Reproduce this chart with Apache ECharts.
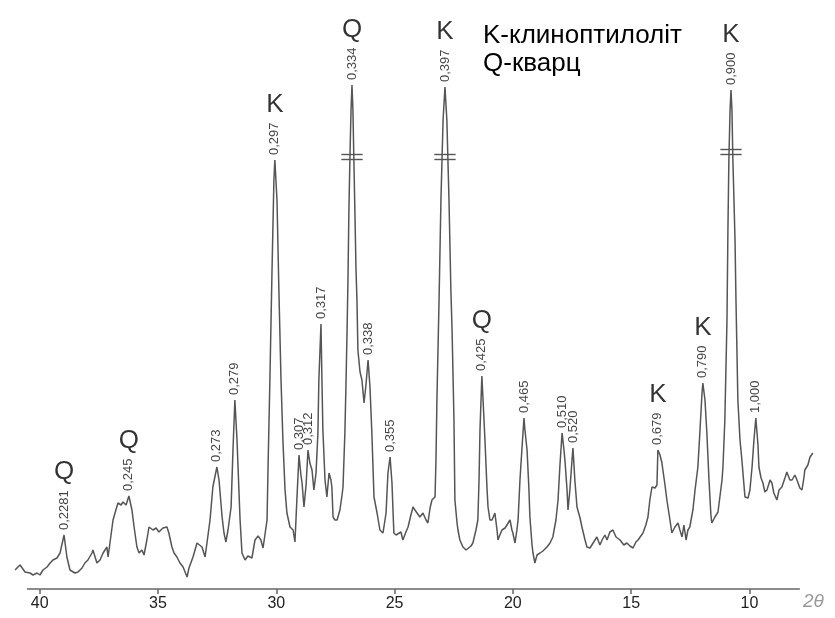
<!DOCTYPE html>
<html>
<head>
<meta charset="utf-8">
<script src="https://cdn.jsdelivr.net/npm/echarts@6/dist/echarts.min.js"></script>
<style>html,body{margin:0;padding:0;background:#fff}#c{width:835px;height:618px}</style>
</head>
<body>
<div id="c"></div>
<script>
// 2θ (degrees)
const twoTheta = [41.04,40.92,40.83,40.75,40.62,40.41,40.28,40.11,39.99,39.86,39.69,39.56,39.44,39.27,39.14,38.97,38.85,38.72,38.51,38.38,38.21,38.09,37.96,37.79,37.75,37.58,37.45,37.32,37.16,37.11,37.03,36.90,36.78,36.69,36.56,36.48,36.35,36.23,36.10,36.01,35.89,35.80,35.68,35.59,35.47,35.38,35.21,35.08,34.96,34.79,34.62,34.54,34.41,34.32,34.20,34.07,33.94,33.77,33.69,33.52,33.35,33.27,33.14,33.01,32.93,32.80,32.68,32.51,32.42,32.29,32.21,32.13,32.04,31.91,31.83,31.75,31.66,31.53,31.45,31.32,31.20,31.03,30.90,30.77,30.65,30.56,30.48,30.39,30.35,30.27,30.18,30.10,30.06,29.97,29.89,29.80,29.72,29.63,29.55,29.42,29.29,29.21,29.13,29.04,28.96,28.91,28.83,28.74,28.66,28.58,28.49,28.41,28.32,28.24,28.20,28.11,28.07,28.03,27.94,27.86,27.77,27.69,27.65,27.60,27.52,27.43,27.31,27.22,27.18,27.10,27.05,27.01,26.97,26.93,26.88,26.84,26.80,26.76,26.72,26.67,26.63,26.59,26.55,26.46,26.38,26.29,26.21,26.12,26.04,25.96,25.87,25.74,25.62,25.49,25.36,25.28,25.19,25.11,25.03,24.94,24.86,24.73,24.65,24.52,24.43,24.31,24.22,24.14,24.05,23.93,23.80,23.67,23.59,23.50,23.42,23.29,23.25,23.21,23.12,23.04,22.95,22.87,22.79,22.70,22.62,22.57,22.49,22.45,22.36,22.32,22.24,22.11,21.98,21.90,21.77,21.69,21.56,21.48,21.43,21.39,21.31,21.26,21.18,21.09,21.05,20.97,20.88,20.76,20.67,20.63,20.55,20.46,20.33,20.25,20.12,20.04,20.00,19.91,19.83,19.78,19.70,19.62,19.53,19.49,19.40,19.32,19.28,19.19,19.15,19.07,18.98,18.85,18.73,18.56,18.43,18.31,18.18,18.09,18.01,17.92,17.84,17.80,17.71,17.67,17.59,17.50,17.46,17.38,17.29,17.16,17.08,16.95,16.87,16.74,16.66,16.53,16.45,16.32,16.23,16.11,16.02,15.90,15.77,15.64,15.47,15.31,15.18,15.05,14.92,14.80,14.71,14.59,14.50,14.38,14.29,14.21,14.12,13.99,13.91,13.87,13.78,13.70,13.57,13.49,13.36,13.28,13.15,13.02,12.94,12.85,12.77,12.68,12.60,12.52,12.43,12.39,12.30,12.18,12.09,12.01,11.97,11.88,11.80,11.71,11.63,11.59,11.46,11.33,11.25,11.16,11.12,11.04,10.95,10.91,10.87,10.82,10.78,10.74,10.70,10.61,10.57,10.49,10.40,10.32,10.19,10.06,9.98,9.89,9.81,9.73,9.64,9.60,9.51,9.43,9.35,9.26,9.13,9.05,8.97,8.84,8.75,8.63,8.50,8.42,8.29,8.20,8.08,7.99,7.87,7.78,7.70,7.66,7.53,7.44,7.32];
// relative intensity (arbitrary units)
const intensity = [19,22,24,26,17,16,14,16,14,19,22,26,29,31,36,54,32,19,16,17,21,26,29,36,39,26,29,36,42,32,46,69,79,86,84,87,84,93,79,62,42,36,39,34,49,62,59,61,57,61,62,56,42,36,32,26,22,12,21,32,46,47,42,32,46,69,102,122,109,72,56,47,59,82,139,189,149,69,36,29,33,31,49,53,49,41,54,69,119,209,319,409,429,389,299,209,149,99,76,62,59,47,89,134,114,106,82,104,139,126,119,99,116,156,209,265,209,159,109,92,116,109,102,72,69,69,79,94,102,156,209,256,309,379,439,479,504,479,429,369,319,289,239,217,209,186,204,229,202,156,92,76,59,56,76,116,132,106,56,54,52,57,49,57,62,74,82,79,76,72,76,69,66,81,89,92,129,189,289,389,469,502,469,389,299,259,169,89,66,59,49,42,39,39,43,46,59,69,109,159,213,189,149,99,82,69,69,76,59,49,54,59,61,62,69,59,56,46,59,69,109,139,171,159,139,99,72,44,36,26,34,36,38,42,46,52,69,89,124,156,139,129,99,79,99,129,141,109,82,71,62,49,42,41,39,49,52,44,49,54,49,57,59,52,49,44,46,43,41,47,49,53,56,64,72,89,102,101,104,139,134,126,104,89,69,56,62,66,59,52,64,49,59,62,74,79,99,122,159,194,206,189,156,109,74,66,72,77,79,109,122,169,269,359,429,479,499,479,429,349,289,189,149,129,92,91,99,122,149,171,144,122,111,106,97,99,109,106,96,89,99,102,111,117,109,109,114,109,101,99,111,119,124,132,136];

// labelled reflections: d-spacing (nm), phase, 2θ and top intensity
const peakD     = ['0,2281','0,245','0,273','0,279','0,297','0,307','0,312','0,317','0,334','0,338','0,355','0,397','0,425','0,465','0,510','0,520','0,679','0,790','0,900','1,000'];
const peakPhase = ['Q','Q','','','K','','','','Q','','','K','Q','','','','K','K','K',''];
const peakTheta = [38.97,36.23,32.51,31.75,30.06,29.04,28.66,28.11,26.80,26.12,25.19,22.87,21.31,19.53,17.92,17.46,13.87,11.97,10.78,9.73];
const peakInt   = [54,93,122,189,429,134,139,265,504,229,132,502,213,171,156,141,139,206,499,171];

// truncated (broken) peaks
const breakTheta = [26.80, 22.87, 10.78];
const breakInt   = [432, 432, 437];

// drawn extent of the 2θ axis line, and its ticks
const axisExtent = [40.54, 7.87];
const xTicks = [40,35,30,25,20,15,10];
const legendLines = ['K-клиноптилоліт', 'Q-кварц'];
const axisName = '2θ';

const FONT = '"Liberation Sans", Arial, sans-serif';
const cvs = document.createElement('canvas').getContext('2d');
cvs.font = '13px "Liberation Sans"';

const curve = twoTheta.map((t, i) => [t, intensity[i]]);
const numData = peakD.map((d, i) => ({ name: d, value: [peakTheta[i], peakInt[i]] }));
const letterData = [];
peakD.forEach((d, i) => {
  if (peakPhase[i]) {
    const w = cvs.measureText(d).width;
    letterData.push({ name: peakPhase[i], value: [peakTheta[i], peakInt[i]], label: { distance: 5 + w + 5 } });
  }
});
const halfW = 0.45, gapI = 2.5;
const marks = [];
breakTheta.forEach((t, i) => {
  marks.push([{ coord: [t + halfW, breakInt[i] + gapI] }, { coord: [t - halfW, breakInt[i] + gapI] }]);
  marks.push([{ coord: [t + halfW, breakInt[i] - gapI] }, { coord: [t - halfW, breakInt[i] - gapI] }]);
});

const chart = echarts.init(document.getElementById('c'), null, { renderer: 'canvas' });
chart.setOption({
  animation: false,
  backgroundColor: '#fff',
  textStyle: { fontFamily: FONT },
  title: {
    text: legendLines.join('\n'), left: 478, top: 17,
    textStyle: { fontSize: 26, fontWeight: 'normal', color: '#000', lineHeight: 28, fontFamily: FONT }
  },
  graphic: [{ type: 'text', left: 803, top: 592, style: { text: axisName, fontSize: 19, fontStyle: 'italic', fill: '#9a9a9a', fontFamily: FONT } }],
  grid: { left: 11.3, right: 19.3, top: 40, bottom: 29 },
  xAxis: {
    type: 'value', inverse: true, min: 7.2, max: 41.2,
    axisLine: { show: false },
    axisTick: { show: true, length: 5, customValues: xTicks, lineStyle: { color: '#666', width: 1.5 } },
    axisLabel: { show: true, customValues: xTicks, fontSize: 16, color: '#222', margin: 7, fontFamily: FONT },
    splitLine: { show: false }
  },
  yAxis: { type: 'value', min: 0, max: 549, show: false },
  series: [
    {
      type: 'line', data: curve, showSymbol: false,
      lineStyle: { color: '#555', width: 1.5 },
      markLine: {
        silent: true, symbol: 'none', label: { show: false },
        lineStyle: { color: '#555', width: 1.4, type: 'solid' },
        data: marks.concat([[{ coord: [axisExtent[0], 0], lineStyle: { color: '#666', width: 1.5 } }, { coord: [axisExtent[1], 0] }]])
      }
    },
    {
      type: 'scatter', data: numData, symbolSize: 0, silent: true,
      label: { show: true, formatter: p => p.name, position: 'top', distance: 5, rotate: 90, align: 'left', verticalAlign: 'middle', fontSize: 13, color: '#111', fontFamily: FONT }
    },
    {
      type: 'scatter', data: letterData, symbolSize: 0, silent: true,
      label: { show: true, formatter: p => p.name, position: 'top', fontSize: 26, color: '#000', fontFamily: FONT }
    }
  ]
});
</script>
</body>
</html>
